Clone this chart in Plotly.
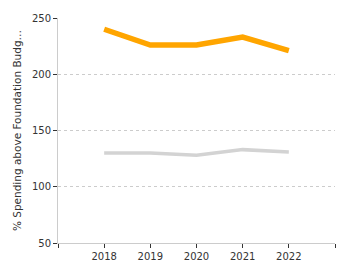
import plotly.graph_objects as go

years = [2018, 2019, 2020, 2021, 2022]
orange_vals = [240, 226, 226, 233, 221]
gray_vals = [130, 130, 128, 133, 131]
tick_years = [2017, 2018, 2019, 2020, 2021, 2022, 2023]
tick_text = ["", "2018", "2019", "2020", "2021", "2022", ""]
y_ticks = [50, 100, 150, 200, 250]

font = dict(family="DejaVu Sans, Verdana, sans-serif", size=10, color="#333")

fig = go.Figure()
fig.add_trace(go.Scatter(x=years, y=gray_vals, mode="lines",
                         line=dict(color="#d3d3d3", width=3.5), showlegend=False))
fig.add_trace(go.Scatter(x=years, y=orange_vals, mode="lines",
                         line=dict(color="#FFA500", width=5.5), showlegend=False))

fig.update_layout(
    width=350, height=275,
    margin=dict(l=58, r=15, t=15, b=32),
    paper_bgcolor="white", plot_bgcolor="white",
    font=font,
    xaxis=dict(range=[2017, 2023], tickvals=tick_years, ticktext=tick_text,
               showgrid=False, showline=True, linecolor="#ccc", linewidth=1,
               ticks="outside", ticklen=4, tickcolor="#333", zeroline=False),
    yaxis=dict(range=[50, 250], tickvals=y_ticks,
               showgrid=True, gridcolor="#ccc", griddash="dot", gridwidth=1,
               showline=True, linecolor="#ccc", linewidth=1,
               ticks="outside", ticklen=4, tickcolor="#333", zeroline=False,
               title=dict(text="% Spending above Foundation Budg…", standoff=8,
                          font=dict(size=10.5, color="#333"))),
)
fig.write_html("out.html")
